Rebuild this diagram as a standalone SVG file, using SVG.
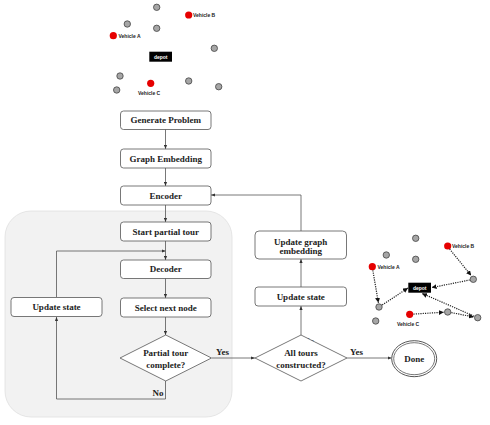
<svg xmlns="http://www.w3.org/2000/svg" width="490" height="425" viewBox="0 0 490 425">
<style>
.box{fill:#fff;stroke:#555;stroke-width:0.8}
.t{font-family:"Liberation Serif","Times New Roman",serif;font-weight:bold;font-size:9px;fill:#222;text-anchor:middle}
.lbl{font-family:"Liberation Serif","Times New Roman",serif;font-weight:bold;font-size:9px;fill:#222}
.c{fill:none;stroke:#555;stroke-width:0.8}
.g{fill:#a6a6a6;stroke:#444;stroke-width:0.8}
.r{fill:#e60000}
.v{font-family:"Liberation Sans",Arial,sans-serif;font-size:5px;font-weight:bold;fill:#222}
.dep{font-family:"Liberation Sans",Arial,sans-serif;font-size:5px;font-weight:bold;fill:#fff;text-anchor:middle}
.d{fill:none;stroke:#222;stroke-width:1.2;stroke-dasharray:1.2 1.1}
</style>
<defs>
<marker id="ah" viewBox="0 0 10 10" refX="10" refY="5" markerWidth="4" markerHeight="4" orient="auto" markerUnits="userSpaceOnUse">
<path d="M0,1 L10,5 L0,9 z" fill="#333"/>
</marker>
<marker id="dh" viewBox="0 0 10 10" refX="10" refY="5" markerWidth="5" markerHeight="5" orient="auto" markerUnits="userSpaceOnUse">
<path d="M0,0 L10,5 L0,10 z" fill="#111"/>
</marker>
</defs>

<rect id="loop-region" x="5" y="211" width="227" height="206" rx="26" fill="#f2f2f2" stroke="#e0e0e0" stroke-width="0.8"/>

<g id="graph-top">
<circle class="g" cx="156.7" cy="7.3" r="3.2"/>
<circle class="g" cx="127.3" cy="24" r="3.2"/>
<circle class="g" cx="156.7" cy="28.3" r="3.2"/>
<circle class="g" cx="214.3" cy="48.3" r="3.2"/>
<circle class="g" cx="120" cy="76" r="3.2"/>
<circle class="g" cx="116.7" cy="90" r="3.2"/>
<circle class="g" cx="188.7" cy="81" r="3.2"/>
<circle class="g" cx="218.7" cy="86.7" r="3.2"/>
<circle class="r" cx="188.7" cy="15" r="3.6"/>
<circle class="r" cx="113.3" cy="35.7" r="3.6"/>
<circle class="r" cx="150.7" cy="83.3" r="3.6"/>
<text class="v" x="193" y="16.8">Vehicle B</text>
<text class="v" x="118.5" y="37.5">Vehicle A</text>
<text class="v" x="138" y="95">Vehicle C</text>
<rect x="149.3" y="51.7" width="22.7" height="10" fill="#000"/>
<text class="dep" x="160.7" y="58.5">depot</text>
</g>

<g id="connectors">
<path class="c" d="M165.5,129 V149" marker-end="url(#ah)"/>
<path class="c" d="M165.5,168 V186" marker-end="url(#ah)"/>
<path class="c" d="M165.5,205 V222" marker-end="url(#ah)"/>
<path class="c" d="M165.5,241 V260" marker-end="url(#ah)"/>
<path class="c" d="M165.5,278 V298" marker-end="url(#ah)"/>
<path class="c" d="M165.5,317 V335" marker-end="url(#ah)"/>
<path class="c" d="M165.5,381 V399 H56.5 V317" marker-end="url(#ah)"/>
<path class="c" d="M56.5,297 V251 H165.5" marker-end="url(#ah)"/>
<path class="c" d="M212,358 H255" marker-end="url(#ah)"/>
<path class="c" d="M301,335 V306" marker-end="url(#ah)"/>
<path class="c" d="M301,287 V259" marker-end="url(#ah)"/>
<path class="c" d="M301,231 V195 H211" marker-end="url(#ah)"/>
<path class="c" d="M347,358 H391.5" marker-end="url(#ah)"/>
<text class="lbl" x="152.5" y="396">No</text>
<text class="lbl" x="216" y="355">Yes</text>
<text class="lbl" x="303" y="344">No</text>
<text class="lbl" x="350" y="355">Yes</text>
</g>

<g id="generate-problem">
<rect class="box" x="120.5" y="111" width="90.5" height="18.5" rx="3"/>
<text class="t" x="165.75" y="123.3">Generate Problem</text>
</g>
<g id="graph-embedding">
<rect class="box" x="120.5" y="149" width="90.5" height="19" rx="3"/>
<text class="t" x="165.75" y="161.5">Graph Embedding</text>
</g>
<g id="encoder">
<rect class="box" x="120.5" y="186" width="90.5" height="19" rx="3"/>
<text class="t" x="165.75" y="198.5">Encoder</text>
</g>
<g id="start-partial-tour">
<rect class="box" x="120.5" y="222" width="90.5" height="19" rx="3"/>
<text class="t" x="165.75" y="234.5">Start partial tour</text>
</g>
<g id="decoder">
<rect class="box" x="120.5" y="260" width="90.5" height="18.5" rx="3"/>
<text class="t" x="165.75" y="272.3">Decoder</text>
</g>
<g id="select-next-node">
<rect class="box" x="120.5" y="298" width="90.5" height="19" rx="3"/>
<text class="t" x="165.75" y="310.5">Select next node</text>
</g>
<g id="update-state-left">
<rect class="box" x="11" y="297.5" width="91" height="19" rx="3"/>
<text class="t" x="56.5" y="310">Update state</text>
</g>
<g id="partial-tour-complete">
<polygon class="box" points="165.75,335 211.5,358 165.75,381 120,358"/>
<text class="t" x="165.75" y="356">Partial tour</text>
<text class="t" x="165.75" y="367.5">complete?</text>
</g>
<g id="all-tours-constructed">
<polygon class="box" points="301,335 347,358 301,381 255,358"/>
<text class="t" x="301" y="356">All tours</text>
<text class="t" x="301" y="367.5">constructed?</text>
</g>
<g id="update-state-right">
<rect class="box" x="255" y="287" width="91.5" height="19" rx="3"/>
<text class="t" x="300.75" y="299.5">Update state</text>
</g>
<g id="update-graph-embedding">
<rect class="box" x="255" y="231" width="91.5" height="28" rx="4"/>
<text class="t" x="300.75" y="244.5">Update graph</text>
<text class="t" x="300.75" y="254">embedding</text>
</g>
<g id="done">
<ellipse cx="414.2" cy="358.7" rx="22.5" ry="18" fill="#fff" stroke="#555" stroke-width="1"/>
<ellipse cx="414.2" cy="358.7" rx="20.5" ry="16" fill="none" stroke="#555" stroke-width="0.8"/>
<text class="t" x="414.2" y="362">Done</text>
</g>

<g id="graph-bottom">
<circle class="g" cx="415.7" cy="238.3" r="3.2"/>
<circle class="g" cx="386.3" cy="255" r="3.2"/>
<circle class="g" cx="415.7" cy="259.3" r="3.2"/>
<circle class="g" cx="473.3" cy="279.3" r="3.2"/>
<circle class="g" cx="379" cy="307" r="3.2"/>
<circle class="g" cx="375.7" cy="321" r="3.2"/>
<circle class="g" cx="447.7" cy="312" r="3.2"/>
<circle class="g" cx="477.7" cy="317.7" r="3.2"/>
<circle class="r" cx="447.7" cy="246" r="3.6"/>
<circle class="r" cx="372.3" cy="266.7" r="3.6"/>
<circle class="r" cx="409.7" cy="314.3" r="3.6"/>
<text class="v" x="452" y="247.8">Vehicle B</text>
<text class="v" x="377.5" y="268.5">Vehicle A</text>
<text class="v" x="397" y="326">Vehicle C</text>
<rect x="408.3" y="282.7" width="22.7" height="10" fill="#000"/>
<text class="dep" x="419.7" y="289.5">depot</text>
<path class="d" d="M372.8,270.3 L378.4,302.8" marker-end="url(#dh)"/>
<path class="d" d="M382.2,305 L408,288" marker-end="url(#dh)"/>
<path class="d" d="M449.6,249 L471.2,275.6" marker-end="url(#dh)"/>
<path class="d" d="M469.8,280 L431.6,287.6" marker-end="url(#dh)"/>
<path class="d" d="M413.5,314.1 L443.8,312.2" marker-end="url(#dh)"/>
<path class="d" d="M451.4,312.6 L473.9,317" marker-end="url(#dh)"/>
<path class="d" d="M474.2,316.2 L422,293.4" marker-end="url(#dh)"/>
</g>
</svg>
